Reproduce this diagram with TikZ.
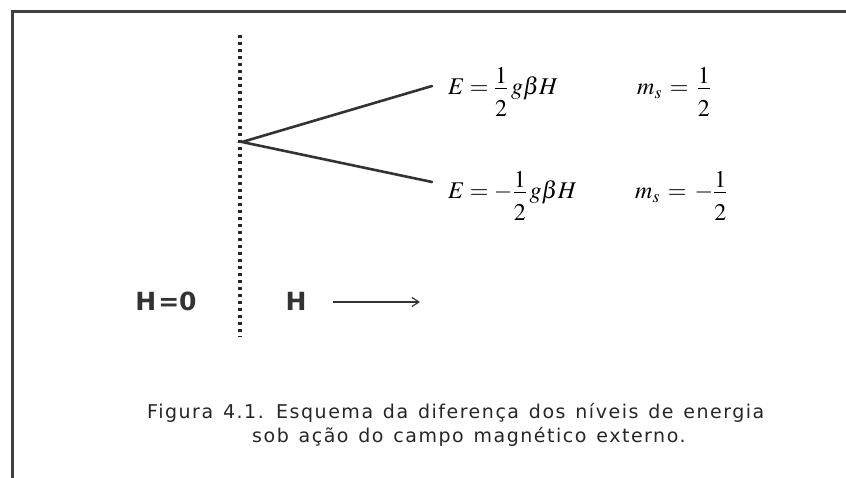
\documentclass[tikz,border=0pt]{standalone}
\usepackage{amsmath}
\usepackage{mathptmx}
\usepackage[no-math]{fontspec}
\setsansfont{DejaVu Sans}
\newfontfamily\capfont[LetterSpace=8,WordSpace=1.3]{DejaVu Sans}
\usetikzlibrary{positioning, arrows.meta}
% one half, numerals set a little apart from the bar
\newcommand{\halffrac}{\dfrac{\raisebox{-5pt}{$1$}}{\raisebox{-6pt}{$2$}}}

\begin{document}
\begin{tikzpicture}[x=1pt, y=-1pt,
    level/.style={line width=2.6pt, draw=black!80, line cap=round},
    eq/.style={anchor=west, inner sep=0pt, font=\fontsize{24}{28}\selectfont},
    lbl/.style={inner sep=0pt, font=\sffamily\bfseries\fontsize{25}{29}\selectfont, text=black!80},
    caption/.style={anchor=west, inner sep=0pt, font=\capfont\fontsize{19}{23}\selectfont, text=black!85}]
    \useasboundingbox (0,0) rectangle (846,478);

    % Frame
    \draw[line width=3pt, black!75] (846,12) -- (12,12) -- (12,478);

    % Boundary H = 0
    \coordinate (top) at (240,35);
    \coordinate (bot) at (240,337);
    \draw[line width=3.2pt, black!85, dash pattern=on 3.2pt off 3.8pt] (top) -- (bot);

    % Zeeman splitting
    \coordinate (split) at (242,142);
    \coordinate (up) at (432,86);
    \coordinate (dn) at (432,182);
    \draw[level] (up) -- (split) -- (dn);

    % Energy levels
    \node[eq] (Eup) at (448,92) {$E=\halffrac\,g\beta H$};
    \node[eq] (Edn) at (448,196) {$E=-\halffrac\,g\beta H$};
    \node[eq] (mup) at (637,92) {$m_s\,=\,\halffrac$};
    \node[eq] (mdn) at (635,196) {$m_s\,=\,-\halffrac$};

    % Field labels
    \node[lbl] (H0) at (166,301) {H\kern2pt=0};
    \node[lbl] (H) at (296,301) {H};
    \coordinate (a1) at (333,302);
    \coordinate (a2) at (420,302);
    \draw[line width=1.2pt, black!80, -{Straight Barb[length=7pt, width=9pt]}] (a1) -- (a2);

    % Caption
    \node[caption] (cap1) at (147,413) {Figura 4.1. Esquema da diferença dos níveis de energia};
    \node[caption] (cap2) at (252,437) {sob ação do campo magnético externo.};
\end{tikzpicture}
\end{document}
